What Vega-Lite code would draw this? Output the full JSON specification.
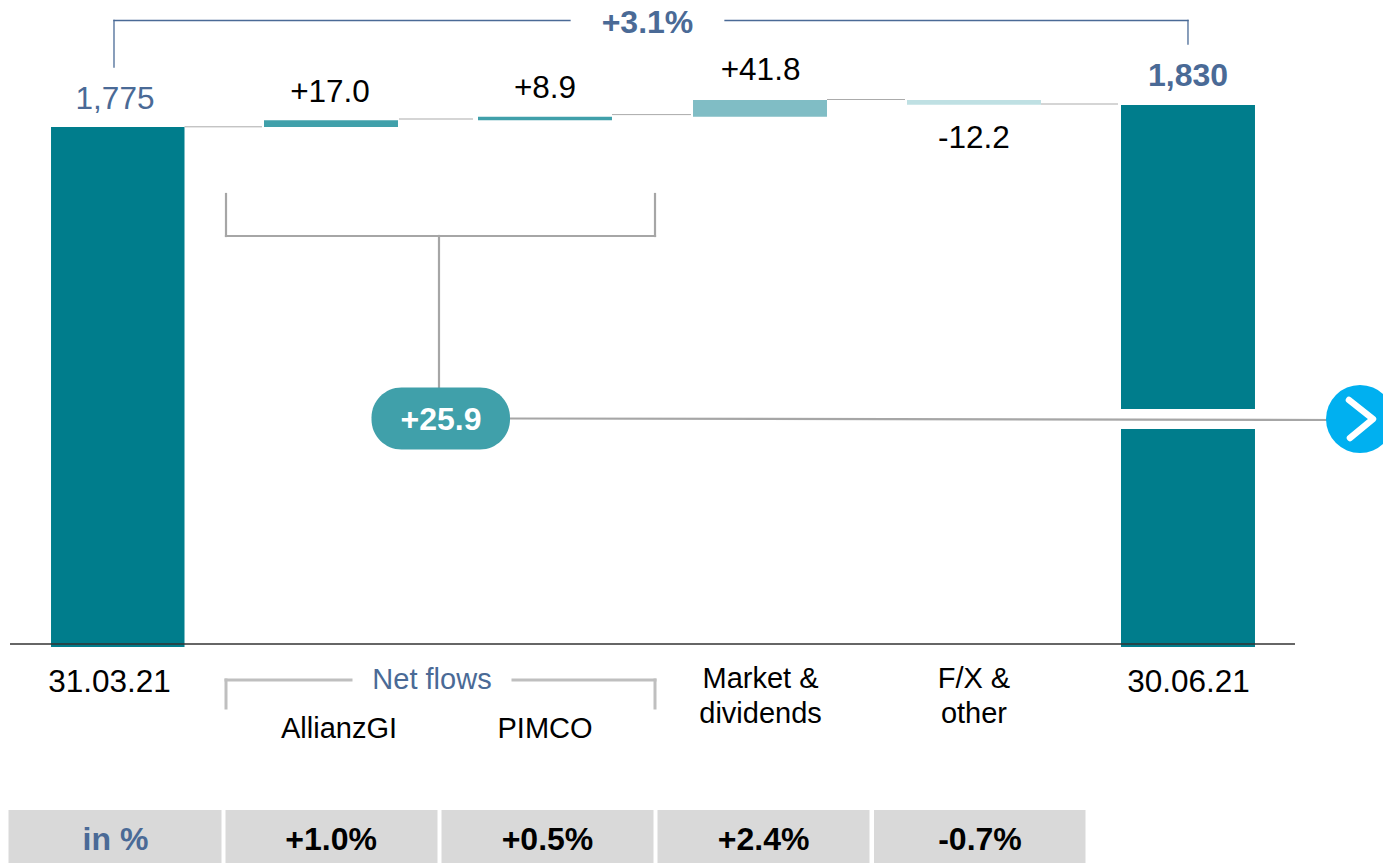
{
"$schema":"https://vega.github.io/schema/vega-lite/v6.json",
"width":1383,"height":863,"padding":0,"autosize":{"type":"none"},
"background":"white",
"config":{"view":{"stroke":null},"text":{"font":"Liberation Sans"}},
"datasets":{
"bars":[
{"step":"31.03.21","x":-0.3107,"x2":0.3131,"low":475,"high":1775,"kind":"total"},
{"step":"AllianzGI","x":0.6846,"x2":1.3107,"low":1775,"high":1792,"kind":"flows"},
{"step":"PIMCO","x":1.6846,"x2":2.3107,"low":1792,"high":1800.9,"kind":"flows"},
{"step":"Market & dividends","x":2.6893,"x2":3.3154,"low":1800.9,"high":1842.7,"kind":"market"},
{"step":"F/X & other","x":3.6893,"x2":4.3154,"low":1830.5,"high":1842.7,"kind":"fx"},
{"step":"30.06.21","x":4.6893,"x2":5.3154,"low":475,"high":1020,"kind":"total"},
{"step":"30.06.21","x":4.6893,"x2":5.3154,"low":1070,"high":1830,"kind":"total"}
],
"cells":[
{"x":-0.5094,"x2":0.486,"low":-65,"high":67.5},
{"x":0.5047,"x2":1.4953,"low":-65,"high":67.5},
{"x":1.514,"x2":2.5047,"low":-65,"high":67.5},
{"x":2.5234,"x2":3.514,"low":-65,"high":67.5},
{"x":3.535,"x2":4.5234,"low":-65,"high":67.5}
],
"pill":[{"x":1.1869,"x2":1.8341,"low":968.75,"high":1123.75}],
"change":[
{"x":-0.0164,"x2":-0.0164,"y":1925,"y2":2041.25},
{"x":-0.0164,"x2":2.1145,"y":2041.25,"y2":2041.25},
{"x":2.8388,"x2":5.0023,"y":2041.25,"y2":2041.25},
{"x":5.0023,"x2":5.0023,"y":1982.5,"y2":2041.25}
],
"connectors":[
{"x":0.3131,"x2":0.6752,"y":1775.5,"y2":1775.5},
{"x":1.3154,"x2":1.6612,"y":1795,"y2":1795},
{"x":2.3107,"x2":2.6799,"y":1806,"y2":1806},
{"x":3.3154,"x2":3.6799,"y":1843.75,"y2":1843.75},
{"x":4.3154,"x2":4.6752,"y":1832.5,"y2":1832.5}
],
"group":[
{"x":0.507,"x2":0.507,"y":1502.5,"y2":1607.5},
{"x":0.507,"x2":2.5117,"y":1502.5,"y2":1502.5},
{"x":2.5117,"x2":2.5117,"y":1502.5,"y2":1607.5},
{"x":1.5023,"x2":1.5023,"y":1122.5,"y2":1502.5},
{"x":1.8341,"x2":5.7126,"y":1046.25,"y2":1042.5}
],
"netflows":[
{"x":0.507,"x2":0.507,"y":322.5,"y2":392.5},
{"x":0.507,"x2":1.0911,"y":392.5,"y2":392.5},
{"x":1.8481,"x2":2.5117,"y":392.5,"y2":392.5},
{"x":2.5117,"x2":2.5117,"y":322.5,"y2":392.5}
],
"baseline":[{"x":-0.5023,"x2":5.5023,"y":482.5,"y2":482.5}],
"marker":[{"x":5.8061,"y":1045}],
"chevron":[
{"x":5.7547,"y":1092.5,"o":1},
{"x":5.8668,"y":1045,"o":2},
{"x":5.7593,"y":997.5,"o":3}
],
"regular":[
{"label":"1,775","x":-0.0117,"y":1847.5,"tone":"blue","fs":"large"},
{"label":"+17.0","x":0.993,"y":1865,"tone":"black","fs":"large"},
{"label":"+8.9","x":1.9977,"y":1875,"tone":"black","fs":"large"},
{"label":"+41.8","x":3.005,"y":1920,"tone":"black","fs":"large"},
{"label":"-12.2","x":4.002,"y":1750,"tone":"black","fs":"large"},
{"label":"31.03.21","x":-0.0374,"y":390,"tone":"black","fs":"large"},
{"label":"30.06.21","x":5.005,"y":390,"tone":"black","fs":"large"},
{"label":"Net flows","x":1.4696,"y":397.5,"tone":"blue","fs":"small"},
{"label":"AllianzGI","x":1.035,"y":275,"tone":"black","fs":"small"},
{"label":"PIMCO","x":1.9977,"y":275,"tone":"black","fs":"small"},
{"label":"Market &","x":3.005,"y":400,"tone":"black","fs":"small"},
{"label":"dividends","x":3.005,"y":312.5,"tone":"black","fs":"small"},
{"label":"F/X &","x":4.002,"y":400,"tone":"black","fs":"small"},
{"label":"other","x":4.002,"y":312.5,"tone":"black","fs":"small"}
],
"bold":[
{"label":"+3.1%","x":2.4766,"y":2037.5,"tone":"blue"},
{"label":"1,830","x":5.0023,"y":1905,"tone":"blue"},
{"label":"+25.9","x":1.5117,"y":1045,"tone":"white"},
{"label":"in %","x":-0.0094,"y":-5,"tone":"blue"},
{"label":"+1.0%","x":0.998,"y":-5,"tone":"black"},
{"label":"+0.5%","x":2.0093,"y":-5,"tone":"black"},
{"label":"+2.4%","x":3.019,"y":-5,"tone":"black"},
{"label":"-0.7%","x":4.0304,"y":-5,"tone":"black"}
]
},
"encoding":{
"x":{"field":"x","type":"quantitative","axis":null,"scale":{"domain":[-0.5491,5.9136],"nice":false,"zero":false}},
"y":{"field":"y","type":"quantitative","axis":null,"scale":{"domain":[-65,2092.5],"nice":false,"zero":false}}
},
"layer":[
{"data":{"name":"bars"},"mark":{"type":"rect"},
"encoding":{"x2":{"field":"x2"},"y":{"field":"low","type":"quantitative"},"y2":{"field":"high"},
"color":{"field":"kind","type":"nominal","legend":null,"scale":{"domain":["total","flows","market","fx"],"range":["#007D8C","#40A0AA","#80BDC5","#BFE0E3"]}}}},
{"data":{"name":"cells"},"mark":{"type":"rect","color":"#D9D9D9"},
"encoding":{"x2":{"field":"x2"},"y":{"field":"low","type":"quantitative"},"y2":{"field":"high"}}},
{"data":{"name":"change"},"mark":{"type":"rule","color":"#4A6A96","size":1.3,"strokeCap":"square"},
"encoding":{"x2":{"field":"x2"},"y2":{"field":"y2"}}},
{"data":{"name":"connectors"},"mark":{"type":"rule","color":"#ABABAB","size":1},
"encoding":{"x2":{"field":"x2"},"y2":{"field":"y2"}}},
{"data":{"name":"group"},"mark":{"type":"rule","color":"#A6A6A6","size":2.2,"strokeCap":"square"},
"encoding":{"x2":{"field":"x2"},"y2":{"field":"y2"}}},
{"data":{"name":"netflows"},"mark":{"type":"rule","color":"#BFBFBF","size":3,"strokeCap":"square"},
"encoding":{"x2":{"field":"x2"},"y2":{"field":"y2"}}},
{"data":{"name":"baseline"},"mark":{"type":"rule","color":"#333333","size":1.5},
"encoding":{"x2":{"field":"x2"},"y2":{"field":"y2"}}},
{"data":{"name":"pill"},"mark":{"type":"rect","color":"#40A0AA","cornerRadius":30},
"encoding":{"x2":{"field":"x2"},"y":{"field":"low","type":"quantitative"},"y2":{"field":"high"}}},
{"data":{"name":"marker"},"mark":{"type":"point","shape":"circle","filled":true,"color":"#00B0F0","opacity":1,"size":4624}},
{"data":{"name":"chevron"},"mark":{"type":"line","color":"white","strokeWidth":6.5,"strokeCap":"round","strokeJoin":"round"},
"encoding":{"order":{"field":"o","type":"quantitative"}}},
{"data":{"name":"regular"},"mark":{"type":"text","baseline":"middle","align":"center","font":"Liberation Sans","dy":1.5},
"encoding":{"text":{"field":"label","type":"nominal"},
"color":{"field":"tone","type":"nominal","legend":null,"scale":{"domain":["black","blue","white"],"range":["#000000","#4A6A96","#FFFFFF"]}},
"size":{"field":"fs","type":"nominal","legend":null,"scale":{"domain":["large","small"],"range":[31.5,29]}}}},
{"data":{"name":"bold"},"mark":{"type":"text","baseline":"middle","align":"center","font":"Liberation Sans","fontWeight":"bold","fontSize":32,"dy":0.8},
"encoding":{"text":{"field":"label","type":"nominal"},
"color":{"field":"tone","type":"nominal","legend":null,"scale":{"domain":["black","blue","white"],"range":["#000000","#4A6A96","#FFFFFF"]}}}}
],
"resolve":{"scale":{"color":"independent","size":"independent"}}
}
